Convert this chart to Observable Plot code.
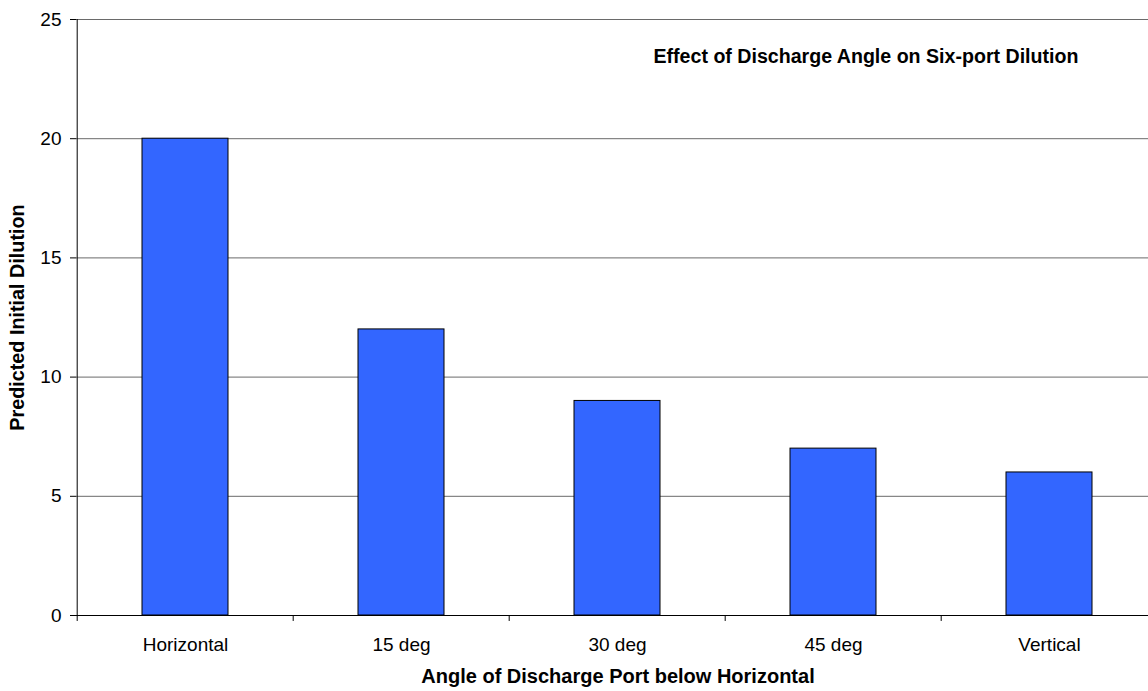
<!DOCTYPE html>
<html>
<head>
<meta charset="utf-8">
<script src="https://cdn.jsdelivr.net/npm/d3@7"></script>
<script src="https://cdn.jsdelivr.net/npm/@observablehq/plot@0.6"></script>
<style>
  html, body { margin: 0; padding: 0; background: #fff; overflow: hidden; }
  #chart { width: 1148px; height: 691px; overflow: hidden; }
</style>
</head>
<body>
<div id="chart"></div>
<script>
const categories = ["Horizontal", "15 deg", "30 deg", "45 deg", "Vertical"];
const dilution = [20, 12, 9, 7, 6];
const yTicks = [0, 5, 10, 15, 20, 25];
const chartTitle = "Effect of Discharge Angle on Six-port Dilution";
const xTitle = "Angle of Discharge Port below Horizontal";
const yTitle = "Predicted Initial Dilution";

const data = categories.map((c, i) => ({category: c, value: dilution[i]}));

const W = 1148, H = 691;
const mL = 76, mT = 19, mB = 76;
const xRange = [76, 1159];
const step = (xRange[1] - xRange[0]) / categories.length;
const font = "Arial, 'Liberation Sans', sans-serif";

const plot = Plot.plot({
  width: W,
  height: H,
  marginLeft: mL,
  marginRight: 0,
  marginTop: mT,
  marginBottom: mB,
  style: {fontFamily: font, background: "#fff", color: "#000"},
  x: {domain: categories, range: xRange, paddingInner: 0.6, paddingOuter: 0.3},
  y: {domain: [0, 25]},
  marks: [
    Plot.ruleY(yTicks.filter(d => d > 0), {stroke: "#6a6a6a", strokeWidth: 1}),
    Plot.barY(data, {x: "category", y: "value", fill: "#3366FF", stroke: "#000", strokeWidth: 1}),
    Plot.ruleY([0], {stroke: "#000", strokeWidth: 1}),
    Plot.ruleX([0], {x: () => categories[0], dx: -step / 2, y1: 0, y2: 25, stroke: "#000"}),
    Plot.ruleX(categories, {x: d => d, dx: -step / 2, y1: 0, y2: -0.25, stroke: "#000"}),
    Plot.axisY(yTicks, {tickSize: 6, tickPadding: 9, fontSize: 19, label: null, stroke: "#000"}),
    Plot.axisX({tickSize: 0, tickPadding: 22, fontSize: 19, label: null, lineAnchor: "top"}),
    Plot.text([chartTitle], {frameAnchor: "top-left", textAnchor: "start", lineAnchor: "top", dx: 577, dy: 30, fontSize: 19.6, fontWeight: "bold", fill: "#000"}),
    Plot.text([xTitle], {frameAnchor: "bottom", textAnchor: "middle", lineAnchor: "middle", dx: (xRange[1] - W) / 2, dy: 61, fontSize: 20, fontWeight: "bold", fill: "#000"}),
    Plot.text([yTitle], {frameAnchor: "left", textAnchor: "middle", rotate: -90, lineAnchor: "middle", dx: -59, fontSize: 19.8, fontWeight: "bold", fill: "#000"})
  ]
});
document.getElementById("chart").appendChild(plot);
</script>
</body>
</html>
